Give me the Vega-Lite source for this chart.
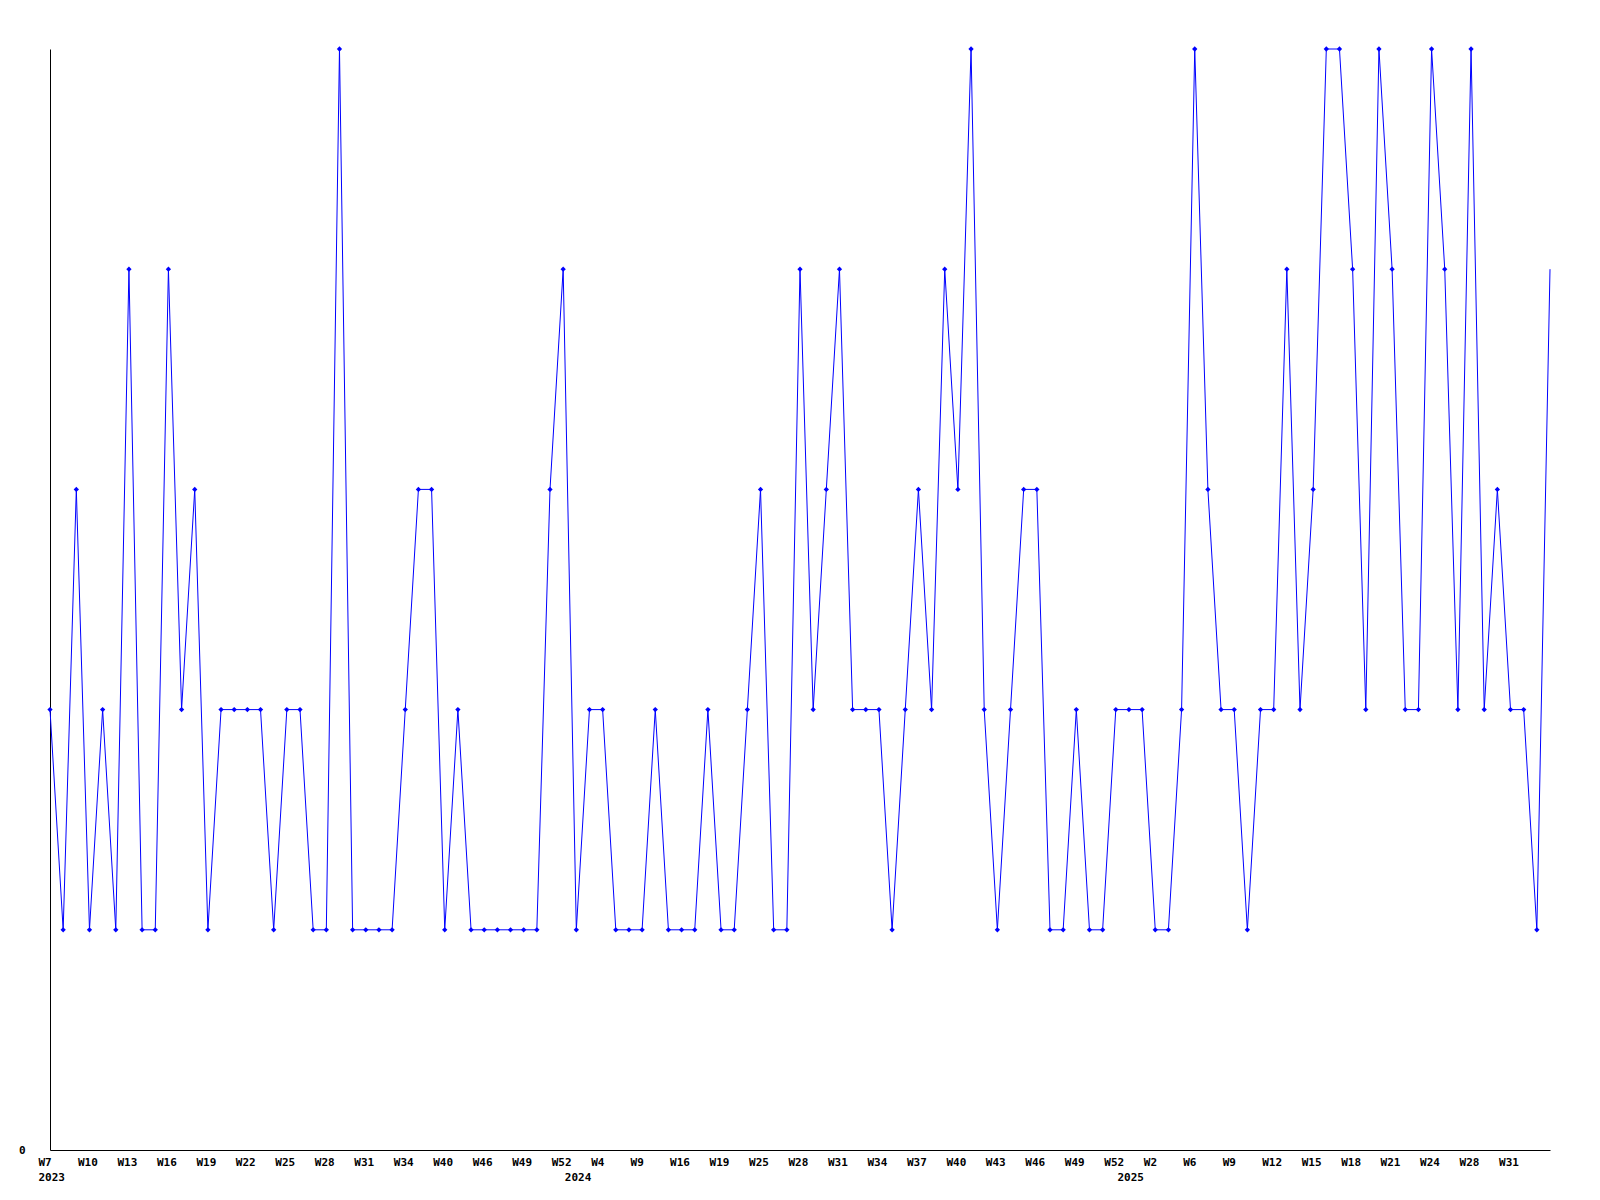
{
  "$schema": "https://vega.github.io/schema/vega-lite/v6.json",
  "autosize": {"type": "none"},
  "padding": {"left": 50, "top": 49, "right": 50, "bottom": 50},
  "width": 1500,
  "height": 1101,
  "background": "white",
  "config": {"view": {"stroke": null}},
  "data": {"values": [
    {"week":"2023-W07","count":2},{"week":"2023-W08","count":1},{"week":"2023-W09","count":3},{"week":"2023-W10","count":1},
    {"week":"2023-W11","count":2},{"week":"2023-W12","count":1},{"week":"2023-W13","count":4},{"week":"2023-W14","count":1},
    {"week":"2023-W15","count":1},{"week":"2023-W16","count":4},{"week":"2023-W17","count":2},{"week":"2023-W18","count":3},
    {"week":"2023-W19","count":1},{"week":"2023-W20","count":2},{"week":"2023-W21","count":2},{"week":"2023-W22","count":2},
    {"week":"2023-W23","count":2},{"week":"2023-W24","count":1},{"week":"2023-W25","count":2},{"week":"2023-W26","count":2},
    {"week":"2023-W27","count":1},{"week":"2023-W28","count":1},{"week":"2023-W29","count":5},{"week":"2023-W30","count":1},
    {"week":"2023-W31","count":1},{"week":"2023-W32","count":1},{"week":"2023-W33","count":1},{"week":"2023-W34","count":2},
    {"week":"2023-W36","count":3},{"week":"2023-W38","count":3},{"week":"2023-W40","count":1},{"week":"2023-W42","count":2},
    {"week":"2023-W44","count":1},{"week":"2023-W46","count":1},{"week":"2023-W47","count":1},{"week":"2023-W48","count":1},
    {"week":"2023-W49","count":1},{"week":"2023-W50","count":1},{"week":"2023-W51","count":3},{"week":"2023-W52","count":4},
    {"week":"2024-W01","count":1},{"week":"2024-W02","count":2},{"week":"2024-W04","count":2},{"week":"2024-W05","count":1},
    {"week":"2024-W07","count":1},{"week":"2024-W09","count":1},{"week":"2024-W11","count":2},{"week":"2024-W14","count":1},
    {"week":"2024-W16","count":1},{"week":"2024-W17","count":1},{"week":"2024-W18","count":2},{"week":"2024-W19","count":1},
    {"week":"2024-W21","count":1},{"week":"2024-W23","count":2},{"week":"2024-W25","count":3},{"week":"2024-W26","count":1},
    {"week":"2024-W27","count":1},{"week":"2024-W28","count":4},{"week":"2024-W29","count":2},{"week":"2024-W30","count":3},
    {"week":"2024-W31","count":4},{"week":"2024-W32","count":2},{"week":"2024-W33","count":2},{"week":"2024-W34","count":2},
    {"week":"2024-W35","count":1},{"week":"2024-W36","count":2},{"week":"2024-W37","count":3},{"week":"2024-W38","count":2},
    {"week":"2024-W39","count":4},{"week":"2024-W40","count":3},{"week":"2024-W41","count":5},{"week":"2024-W42","count":2},
    {"week":"2024-W43","count":1},{"week":"2024-W44","count":2},{"week":"2024-W45","count":3},{"week":"2024-W46","count":3},
    {"week":"2024-W47","count":1},{"week":"2024-W48","count":1},{"week":"2024-W49","count":2},{"week":"2024-W50","count":1},
    {"week":"2024-W51","count":1},{"week":"2024-W52","count":2},
    {"week":"2025-W00","count":2},{"week":"2025-W01","count":2},{"week":"2025-W02","count":1},{"week":"2025-W03","count":1},
    {"week":"2025-W05","count":2},{"week":"2025-W06","count":5},{"week":"2025-W07","count":3},{"week":"2025-W08","count":2},
    {"week":"2025-W09","count":2},{"week":"2025-W10","count":1},{"week":"2025-W11","count":2},{"week":"2025-W12","count":2},
    {"week":"2025-W13","count":4},{"week":"2025-W14","count":2},{"week":"2025-W15","count":3},{"week":"2025-W16","count":5},
    {"week":"2025-W17","count":5},{"week":"2025-W18","count":4},{"week":"2025-W19","count":2},{"week":"2025-W20","count":5},
    {"week":"2025-W21","count":4},{"week":"2025-W22","count":2},{"week":"2025-W23","count":2},{"week":"2025-W24","count":5},
    {"week":"2025-W25","count":4},{"week":"2025-W27","count":2},{"week":"2025-W28","count":5},{"week":"2025-W29","count":2},
    {"week":"2025-W30","count":3},{"week":"2025-W31","count":2},{"week":"2025-W32","count":2},{"week":"2025-W33","count":1},
    {"week":"2025-W34","count":4}
  ]},
  "encoding": {
    "x": {
      "field": "week", "type": "ordinal",
      "scale": {"type": "point", "padding": 0},
      "axis": {
        "title": null,
        "ticks": false,
        "grid": false,
        "domainColor": "black",
        "domainWidth": 1,
        "labelAngle": 0,
        "labelAlign": "left",
        "labelBaseline": "top",
        "labelOffset": -12,
        "labelPadding": 6,
        "labelFont": "DejaVu Sans Mono",
        "labelFontWeight": "bold",
        "labelFontSize": 11,
        "labelLineHeight": 15,
        "labelColor": "black",
        "labelOverlap": false,
        "labelBound": false,
        "labelFlush": false,
        "values": ["2023-W07","2023-W10","2023-W13","2023-W16","2023-W19","2023-W22","2023-W25","2023-W28","2023-W31","2023-W34","2023-W40","2023-W46","2023-W49","2023-W52",
                   "2024-W01","2024-W04","2024-W09","2024-W16","2024-W19","2024-W25","2024-W28","2024-W31","2024-W34","2024-W37","2024-W40","2024-W43","2024-W46","2024-W49","2024-W52",
                   "2025-W00","2025-W02","2025-W06","2025-W09","2025-W12","2025-W15","2025-W18","2025-W21","2025-W24","2025-W28","2025-W31"],
        "labelExpr": "datum.value == '2024-W01' ? ['', '2024'] : datum.value == '2025-W00' ? ['', '2025'] : datum.value == '2023-W07' ? ['W7', '2023'] : 'W' + toNumber(substring(datum.value, 6))"
      }
    },
    "y": {
      "field": "count", "type": "quantitative",
      "scale": {"domain": [0, 5], "nice": false, "zero": true},
      "axis": {
        "title": null,
        "values": [0],
        "ticks": false,
        "grid": false,
        "domainColor": "black",
        "domainWidth": 1,
        "labelPadding": 25,
        "labelFont": "DejaVu Sans Mono",
        "labelFontWeight": "bold",
        "labelFontSize": 11,
        "labelColor": "black"
      }
    }
  },
  "layer": [
    {"mark": {"type": "line", "color": "#0000ff", "strokeWidth": 1, "interpolate": "linear"}},
    {
      "transform": [{"filter": "datum.week != '2025-W34'"}],
      "mark": {"type": "point", "shape": "diamond", "filled": true, "color": "#0000ff", "size": 28, "opacity": 1}
    }
  ]
}
